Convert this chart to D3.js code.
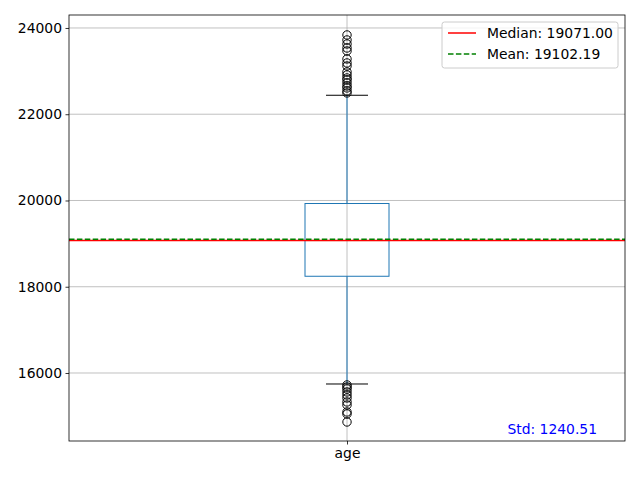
<!DOCTYPE html>
<head>
  <meta charset="utf-8">
  <script src="https://cdn.jsdelivr.net/npm/d3@7"></script>
  <style>
    body { margin: 0; background: #fff; }
    text { font-family: "DejaVu Sans", sans-serif; }
  </style>
</head>
<body>
  <div id="chart"></div>
  <script>
    // Box statistics for the one column
    var categories = ["age"];
    var q1 = [18243], q3 = [19930], boxMedian = [19071];
    var whiskerLow = [15745], whiskerHigh = [22440];

    // Outliers
    var outliersHigh = [23838, 23722, 23629, 23536, 23467, 23282, 23189, 23119,
                        22980, 22911, 22841, 22795, 22725, 22656, 22610, 22540, 22494];
    var outliersLow = [15722, 15676, 15629, 15560, 15490, 15421, 15328, 15258,
                       15096, 15050, 14864];

    var medianValue = 19071.00, meanValue = 19102.19, stdValue = 1240.51;
    var yTicks = [16000, 18000, 20000, 22000, 24000];

    var width = 640, height = 480;
    var margin = {top: 15, right: 15, bottom: 39, left: 69};
    var innerW = width - margin.left - margin.right,
        innerH = height - margin.top - margin.bottom;

    var svg = d3.select("#chart").append("svg")
        .attr("width", width)
        .attr("height", height);

    var g = svg.append("g")
        .attr("transform", "translate(" + margin.left + "," + margin.top + ")");

    var y = d3.scaleLinear().domain([14423, 24301]).range([innerH, 0]);
    var x = d3.scalePoint().domain(categories).range([0, innerW]).padding(0.5);

    // Grid
    g.selectAll(".ygrid").data(yTicks).enter().append("line")
        .attr("x1", 0).attr("x2", innerW)
        .attr("y1", function(d) { return y(d); })
        .attr("y2", function(d) { return y(d); })
        .style("stroke", "#b0b0b0").style("stroke-width", 0.8);
    g.selectAll(".xgrid").data(categories).enter().append("line")
        .attr("x1", function(d) { return x(d); })
        .attr("x2", function(d) { return x(d); })
        .attr("y1", 0).attr("y2", innerH)
        .style("stroke", "#b0b0b0").style("stroke-width", 0.8);

    // Axes
    var yAxis = g.append("g").call(d3.axisLeft(y).tickValues(yTicks)
        .tickFormat(d3.format("d")).tickSize(3.5).tickPadding(3.5));
    var xAxis = g.append("g").attr("transform", "translate(0," + innerH + ")")
        .call(d3.axisBottom(x).tickSize(3.5).tickPadding(3.5));
    [xAxis, yAxis].forEach(function(a) {
        a.select(".domain").remove();
        a.selectAll("line").style("stroke", "#000").style("stroke-width", 0.8);
        a.selectAll("text").style("font-size", "13.9px").style("fill", "#000")
            .style("font-family", "DejaVu Sans, sans-serif");
    });

    var boxHalf = 42, capHalf = 21;
    categories.forEach(function(c, i) {
        var cx = x(c);
        // whiskers
        g.append("line").attr("x1", cx).attr("x2", cx)
            .attr("y1", y(q3[i])).attr("y2", y(whiskerHigh[i]))
            .style("stroke", "#1f77b4").style("stroke-width", 1);
        g.append("line").attr("x1", cx).attr("x2", cx)
            .attr("y1", y(q1[i])).attr("y2", y(whiskerLow[i]))
            .style("stroke", "#1f77b4").style("stroke-width", 1);
        // box
        g.append("rect").attr("x", cx - boxHalf).attr("width", boxHalf * 2)
            .attr("y", y(q3[i])).attr("height", y(q1[i]) - y(q3[i]))
            .style("fill", "none").style("stroke", "#1f77b4").style("stroke-width", 1);
        // caps
        [whiskerLow[i], whiskerHigh[i]].forEach(function(v) {
            g.append("line").attr("x1", cx - capHalf).attr("x2", cx + capHalf)
                .attr("y1", y(v)).attr("y2", y(v))
                .style("stroke", "#000").style("stroke-width", 1);
        });
        // box median
        g.append("line").attr("x1", cx - boxHalf).attr("x2", cx + boxHalf)
            .attr("y1", y(boxMedian[i])).attr("y2", y(boxMedian[i]))
            .style("stroke", "#2ca02c").style("stroke-width", 1);
        // outliers
        g.selectAll(".out" + i).data(outliersHigh.concat(outliersLow)).enter().append("circle")
            .attr("cx", cx).attr("cy", function(d) { return y(d); }).attr("r", 4.2)
            .style("fill", "none").style("stroke", "#000").style("stroke-width", 1);
    });

    // Median and mean lines
    g.append("line").attr("x1", 0).attr("x2", innerW)
        .attr("y1", y(medianValue)).attr("y2", y(medianValue))
        .style("stroke", "red").style("stroke-width", 1.5);
    g.append("line").attr("x1", 0).attr("x2", innerW)
        .attr("y1", y(meanValue)).attr("y2", y(meanValue))
        .style("stroke", "green").style("stroke-width", 1.5)
        .style("stroke-dasharray", "5.5,2.4");

    // Frame
    g.append("rect").attr("width", innerW).attr("height", innerH)
        .style("fill", "none").style("stroke", "#000").style("stroke-width", 0.8);

    // Legend
    var legend = svg.append("g").attr("transform", "translate(442,22)");
    legend.append("rect").attr("width", 176).attr("height", 46).attr("rx", 2.5)
        .style("fill", "#fff").style("fill-opacity", 0.8)
        .style("stroke", "#cccccc").style("stroke-width", 1);
    var entries = [
        {label: "Median: " + medianValue.toFixed(2), color: "red", dash: null},
        {label: "Mean: " + meanValue.toFixed(2), color: "green", dash: "5.5,2.4"}
    ];
    entries.forEach(function(e, i) {
        var yy = 11 + i * 21;
        legend.append("line").attr("x1", 6).attr("x2", 34).attr("y1", yy).attr("y2", yy)
            .style("stroke", e.color).style("stroke-width", 1.5)
            .style("stroke-dasharray", e.dash);
        legend.append("text").attr("x", 45).attr("y", yy + 5)
            .style("font-size", "13.9px").style("fill", "#000").text(e.label);
    });

    // Std annotation
    svg.append("text").attr("x", 597).attr("y", 434)
        .attr("text-anchor", "end")
        .style("font-size", "13.9px").style("fill", "blue")
        .text("Std: " + stdValue.toFixed(2));
  </script>
</body>
